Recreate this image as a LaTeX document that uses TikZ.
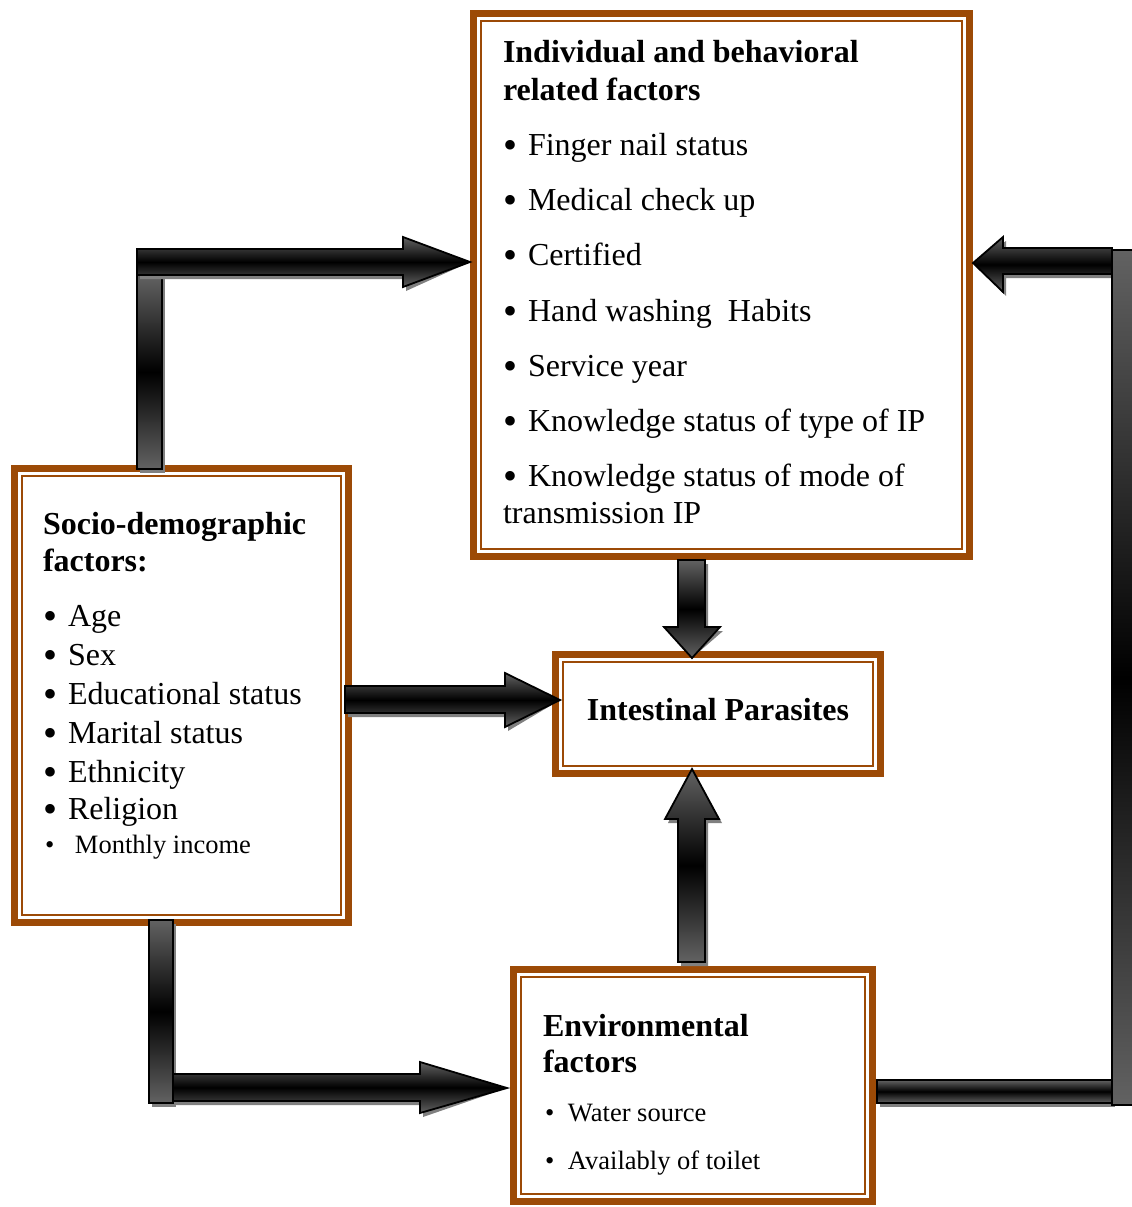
\documentclass[tikz,border=0pt]{standalone}
\usepackage{fontspec}
\usepackage{graphicx}
\setmainfont{Liberation Serif}
\definecolor{brn}{RGB}{156,74,6}
\definecolor{ag}{RGB}{98,98,98}
\definecolor{sh}{RGB}{128,128,128}
\tikzset{
  frame/.style={draw=brn, line width=7pt, fill=white, inner sep=0pt, outer sep=0pt, anchor=north west, rectangle},
  thinframe/.style={draw=brn, line width=2pt},
  txt/.style={inner sep=0pt, outer sep=0pt, anchor=base west},
  big/.style={font=\fontsize{32}{36}\selectfont},
  bigb/.style={font=\fontsize{32}{36}\selectfont\bfseries},
  small/.style={font=\fontsize{26.5}{30}\selectfont},
  shadowfill/.style={fill=sh},
  body/.style={draw=black, line width=1.8pt, line join=miter, top color=ag, bottom color=ag, middle color=black},
}
\newcommand{\dframe}[1]{\draw[thinframe] ([shift={(7.5,7.5)}]#1.north west) rectangle ([shift={(-7.5,-7.5)}]#1.south east);}
\newcommand{\bul}{\makebox[25pt][l]{\hspace{0.5pt}\raisebox{-3.2pt}{\scalebox{1.25}{\textbullet}}}}
\newcommand{\sbul}[1]{\makebox[#1][l]{\hspace{2pt}\textbullet}}
\begin{document}
\begin{tikzpicture}[x=1pt,y=-1pt]
\useasboundingbox (0,0) rectangle (1132,1207);
\begin{scope}
\clip (0,0) rectangle (1132,1207);
% boxes
\node[frame, minimum width=496pt, minimum height=543pt] (top) at (473.5,13.5) {};
\dframe{top}
\node[frame, minimum width=334pt, minimum height=454pt] (soc) at (14.5,468.5) {};
\dframe{soc}
\node[frame, minimum width=325pt, minimum height=119pt] (ip) at (555.5,654.5) {};
\dframe{ip}
\node[frame, minimum width=359pt, minimum height=232pt] (env) at (513.5,969.5) {};
\dframe{env}

% texts: top box
\node[txt, bigb] (t1) at (503,63) {Individual and behavioral};
\node[txt, bigb] (t2) at (503,100) {related factors};
\node[txt, big] (t3) at (503,155) {\bul Finger nail status};
\node[txt, big] (t4) at (503,210) {\bul Medical check up};
\node[txt, big] (t5) at (503,265) {\bul Certified};
\node[txt, big] (t6) at (503,321) {\bul Hand washing\ \ Habits};
\node[txt, big] (t7) at (503,376) {\bul Service year};
\node[txt, big] (t8) at (503,431) {\bul Knowledge status of type of IP};
\node[txt, big] (t9) at (503,486) {\bul Knowledge status of mode of};
\node[txt, big] (t10) at (503,523) {transmission IP};

% socio box
\node[txt, bigb] (s1) at (43,534) {Socio-demographic};
\node[txt, bigb] (s2) at (43,571) {factors:};
\node[txt, big] (s3) at (43,626) {\bul Age};
\node[txt, big] (s4) at (43,665) {\bul Sex};
\node[txt, big] (s5) at (43,704) {\bul Educational status};
\node[txt, big] (s6) at (43,743) {\bul Marital status};
\node[txt, big] (s7) at (43,782) {\bul Ethnicity};
\node[txt, big] (s8) at (43,819) {\bul Religion};
\node[txt, small] (s9) at (43,853) {\sbul{32pt}Monthly income};

% intestinal
\node[inner sep=0pt, anchor=base, bigb] (ipt) at (718,720) {Intestinal Parasites};

% env
\node[txt, bigb] (e1) at (543,1036) {Environmental};
\node[txt, bigb] (e2) at (543,1072) {factors};
\node[txt, small] (e3) at (543,1121) {\sbul{25pt}Water source};
\node[txt, small] (e4) at (543,1169) {\sbul{25pt}Availably of toilet};

% arrow end points on the boxes
\coordinate (topW) at (470,262);
\coordinate (topE) at (973,263);
\coordinate (ipW) at (560,700);
\coordinate (ipN) at (692,658);
\coordinate (ipS) at (692,769);
\coordinate (envW) at (507,1088);

% A1 socio -> top
\fill[shadowfill, shift={(3,4)}] (137,275) rectangle (162,469);
\shade[body] (137,275) rectangle (162,469);
\fill[shadowfill, shift={(3,4)}] (137,249) -- (403,249) -- (403,237) -- (topW) -- (403,287) -- (403,275) -- (137,275) -- cycle;
\shade[body] (137,249) -- (403,249) -- (403,237) -- (topW) -- (403,287) -- (403,275) -- (137,275) -- cycle;

% A2 right loop -> top
\fill[shadowfill, shift={(3,4)}] (877,1080) rectangle (1112,1103);
\shade[body] (877,1080) rectangle (1112,1103);
\fill[shadowfill, shift={(3,4)}] (1112,248) -- (1003,248) -- (1003,237) -- (topE) -- (1003,292) -- (1003,274) -- (1112,274) -- cycle;
\shade[body] (1112,248) -- (1003,248) -- (1003,237) -- (topE) -- (1003,292) -- (1003,274) -- (1112,274) -- cycle;
\shade[body] (1112,250) rectangle (1148,1105);

% A3 socio -> ip
\fill[shadowfill, shift={(3,4)}] (345,686) -- (505,686) -- (505,673) -- (ipW) -- (505,727) -- (505,713) -- (345,713) -- cycle;
\shade[body] (345,686) -- (505,686) -- (505,673) -- (ipW) -- (505,727) -- (505,713) -- (345,713) -- cycle;

% A4 top -> ip
\fill[shadowfill, shift={(3,4)}] (678,560) -- (705,560) -- (705,627) -- (720,627) -- (ipN) -- (664,627) -- (678,627) -- cycle;
\shade[body] (678,560) -- (705,560) -- (705,627) -- (720,627) -- (ipN) -- (664,627) -- (678,627) -- cycle;

% A5 env -> ip
\fill[shadowfill, shift={(3,4)}] (678,962) -- (705,962) -- (705,819) -- (719,819) -- (ipS) -- (665,819) -- (678,819) -- cycle;
\shade[body] (678,962) -- (705,962) -- (705,819) -- (719,819) -- (ipS) -- (665,819) -- (678,819) -- cycle;

% A6 socio -> env
\fill[shadowfill, shift={(3,4)}] (149,920) rectangle (173,1103);
\shade[body] (149,920) rectangle (173,1103);
\fill[shadowfill, shift={(3,4)}] (173,1074) -- (420,1074) -- (420,1062) -- (envW) -- (420,1113) -- (420,1101) -- (173,1101) -- cycle;
\shade[body] (173,1074) -- (420,1074) -- (420,1062) -- (envW) -- (420,1113) -- (420,1101) -- (173,1101) -- cycle;
\end{scope}
\end{tikzpicture}
\end{document}
